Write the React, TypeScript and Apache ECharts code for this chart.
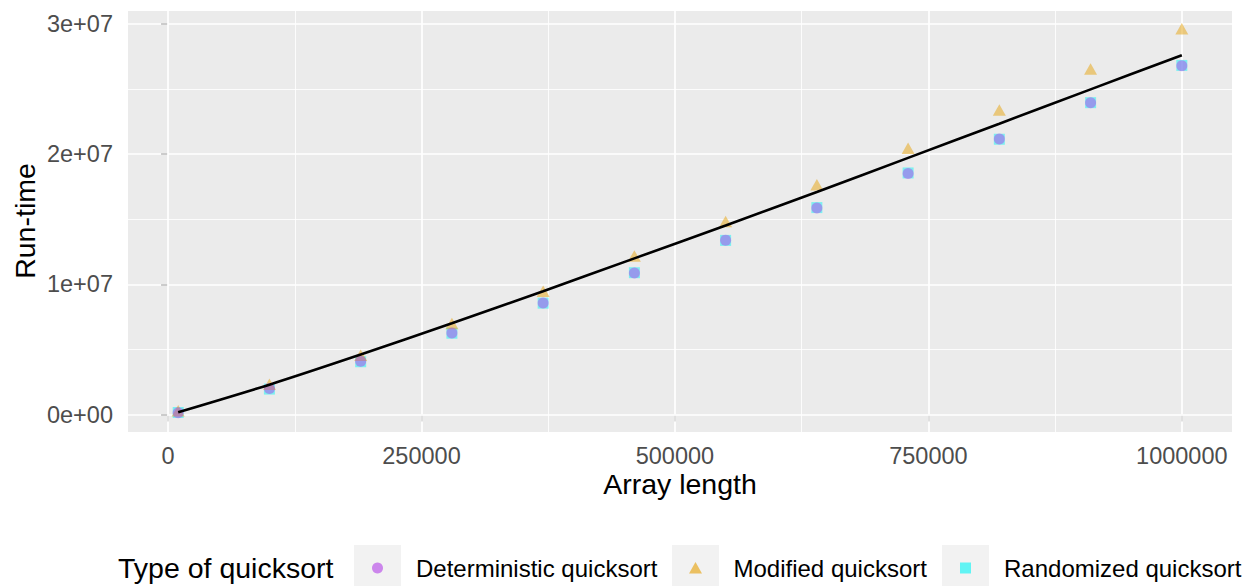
import React, { useEffect, useRef } from "react";
import * as echarts from "echarts";

const arrayLengths = [10000, 100000, 190000, 280000, 370000, 460000, 550000, 640000, 730000, 820000, 910000, 1000000];
const deterministicRuntime = [150000, 2000000, 4100000, 6270000, 8580000, 10880000, 13400000, 15860000, 18520000, 21160000, 23950000, 26800000];
const modifiedRuntime = [300000, 2330000, 4560000, 6990000, 9480000, 12190000, 14830000, 17650000, 20450000, 23390000, 26540000, 29640000];
const randomizedRuntime = [160000, 1960000, 4060000, 6250000, 8560000, 10900000, 13380000, 15900000, 18560000, 21150000, 23960000, 26820000];
const fittedRuntime = [180000, 2300000, 4610000, 7020000, 9480000, 12000000, 14520000, 17100000, 19720000, 22340000, 24980000, 27600000];

const seriesNames = ["Deterministic quicksort", "Modified quicksort", "Randomized quicksort"];
const xTickValues = [0, 250000, 500000, 750000, 1000000];
const xTickLabels = ["0", "250000", "500000", "750000", "1000000"];
const xMinorValues = [125000, 375000, 625000, 875000];
const yTickValues = [0, 10000000, 20000000, 30000000];
const yTickLabels = ["0e+00", "1e+07", "2e+07", "3e+07"];
const yMinorValues = [5000000, 15000000, 25000000];

const FONT = "'Liberation Sans', Arial, Helvetica, sans-serif";
const PURPLE = "rgba(179, 62, 232, 0.6)";
const ORANGE = "rgba(230, 159, 0, 0.6)";
const CYAN = "rgba(0, 245, 245, 0.6)";

const pairs = (ys: number[]) => arrayLengths.map((x, i) => [x, ys[i]]);

export default function App() {
  const ref = useRef<HTMLDivElement>(null);
  useEffect(() => {
    if (!ref.current) return;
    const chart = echarts.init(ref.current, null, { renderer: "svg" });
    const gridLines = [
      ...xTickValues.map((v) => ({ xAxis: v, lineStyle: { width: 1.7 } })),
      ...xMinorValues.map((v) => ({ xAxis: v, lineStyle: { width: 0.85 } })),
      ...yTickValues.map((v) => ({ yAxis: v, lineStyle: { width: 1.7 } })),
      ...yMinorValues.map((v) => ({ yAxis: v, lineStyle: { width: 0.85 } })),
    ];
    const legendKeys = [
      { x: 354, text: seriesNames[0], tx: 416 },
      { x: 672, text: seriesNames[1], tx: 733.5 },
      { x: 942, text: seriesNames[2], tx: 1004 },
    ];
    const cy = 568;
    const graphics: any[] = [
      {
        type: "text",
        x: 680,
        y: 484,
        style: { text: "Array length", fontSize: 28.5, fontFamily: FONT, fill: "#000", align: "center", verticalAlign: "middle" },
      },
      {
        type: "text",
        x: 25,
        y: 221,
        rotation: Math.PI / 2,
        style: { text: "Run-time", fontSize: 28.5, fontFamily: FONT, fill: "#000", align: "center", verticalAlign: "middle" },
      },
      {
        type: "text",
        x: 118,
        y: cy,
        style: { text: "Type of quicksort", fontSize: 28.5, fontFamily: FONT, fill: "#000", align: "left", verticalAlign: "middle" },
      },
    ];
    legendKeys.forEach((k) => {
      graphics.push({ type: "rect", shape: { x: k.x, y: 545, width: 47, height: 46 }, style: { fill: "#F2F2F2" } });
      graphics.push({
        type: "text",
        x: k.tx,
        y: cy,
        style: { text: k.text, fontSize: 24, fontFamily: FONT, fill: "#000", align: "left", verticalAlign: "middle" },
      });
    });
    const c1 = 354 + 23.5;
    const c2 = 672 + 23.5;
    const c3 = 942 + 23.5;
    graphics.push({ type: "circle", shape: { cx: c1, cy, r: 5.5 }, style: { fill: PURPLE } });
    graphics.push({
      type: "polygon",
      shape: { points: [[c2, cy - 6], [c2 - 6.5, cy + 5.5], [c2 + 6.5, cy + 5.5]] },
      style: { fill: ORANGE },
    });
    graphics.push({ type: "rect", shape: { x: c3 - 5.5, y: cy - 5.5, width: 11, height: 11 }, style: { fill: CYAN } });

    chart.setOption({
      animation: false,
      backgroundColor: "#FFFFFF",
      textStyle: { fontFamily: FONT },
      grid: {
        left: 128,
        top: 11,
        width: 1104,
        height: 421,
        show: true,
        backgroundColor: "#EBEBEB",
        borderWidth: 0,
        outerBoundsMode: "none",
      },
      xAxis: {
        type: "value",
        min: -39500,
        max: 1049500,
        axisLine: { show: false },
        splitLine: { show: false },
        axisTick: { show: true, customValues: xTickValues, length: 7, lineStyle: { color: "#333333", width: 2 } },
        axisLabel: {
          customValues: xTickValues,
          formatter: (v: number) => xTickLabels[xTickValues.indexOf(v)] ?? String(v),
          margin: 12,
          color: "#4D4D4D",
          fontSize: 23.5,
          fontFamily: FONT,
        },
      },
      yAxis: {
        type: "value",
        min: -1337000,
        max: 31000000,
        axisLine: { show: false },
        splitLine: { show: false },
        axisTick: { show: true, customValues: yTickValues, length: 7, lineStyle: { color: "#333333", width: 2 } },
        axisLabel: {
          customValues: yTickValues,
          formatter: (v: number) => yTickLabels[yTickValues.indexOf(v)] ?? String(v),
          margin: 15,
          color: "#4D4D4D",
          fontSize: 23.5,
          fontFamily: FONT,
        },
      },
      series: [
        {
          type: "line",
          name: "gridlines",
          data: [],
          silent: true,
          z: 1,
          markLine: {
            z: 1,
            silent: true,
            symbol: ["none", "none"],
            label: { show: false },
            emphasis: { disabled: true },
            lineStyle: { color: "#FFFFFF", type: "solid" },
            data: gridLines,
          },
        },
        {
          type: "scatter",
          name: seriesNames[2],
          data: pairs(randomizedRuntime),
          symbol: "rect",
          symbolSize: 11,
          itemStyle: { color: CYAN },
          z: 2,
          silent: true,
        },
        {
          type: "scatter",
          name: seriesNames[1],
          data: pairs(modifiedRuntime),
          symbol: "triangle",
          symbolSize: [13, 11.5],
          itemStyle: { color: ORANGE },
          z: 3,
          silent: true,
        },
        {
          type: "scatter",
          name: seriesNames[0],
          data: pairs(deterministicRuntime),
          symbol: "circle",
          symbolSize: 11,
          itemStyle: { color: PURPLE },
          z: 4,
          silent: true,
        },
        {
          type: "line",
          name: "fit",
          data: pairs(fittedRuntime),
          showSymbol: false,
          smooth: 0.3,
          lineStyle: { color: "#000000", width: 2.6 },
          z: 5,
          silent: true,
        },
      ],
      graphic: graphics,
    });
    return () => chart.dispose();
  }, []);
  return <div ref={ref} style={{ position: "fixed", left: 0, top: 0, width: 1251, height: 586 }} />;
}
